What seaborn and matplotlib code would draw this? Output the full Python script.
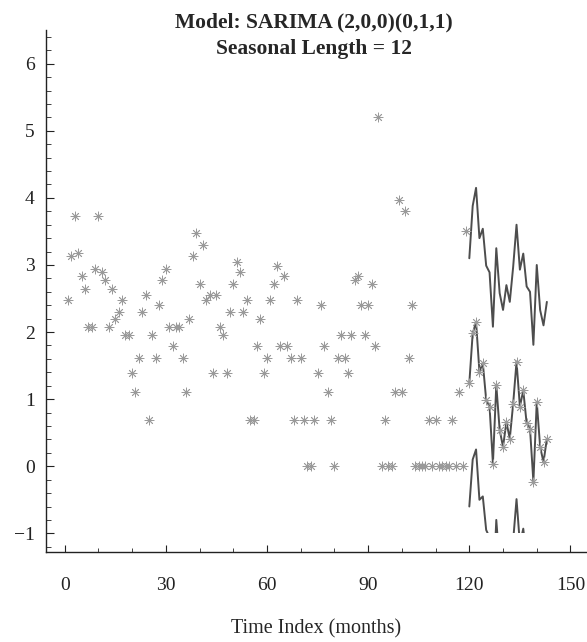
import matplotlib
matplotlib.use("Agg")
import matplotlib.pyplot as plt
from matplotlib.patches import Rectangle
from matplotlib.ticker import MultipleLocator
import seaborn as sns

# observed series (log counts), months 1..143
months = list(range(1, 144))
log_counts = [
    2.48, 3.14, 3.73, 3.18, 2.83, 2.64, 2.08, 2.08, 2.94, 3.73,
    2.89, 2.78, 2.08, 2.64, 2.20, 2.30, 2.48, 1.95, 1.95, 1.39,
    1.10, 1.61, 2.30, 2.56, 0.69, 1.95, 1.61, 2.40, 2.77, 2.94,
    2.08, 1.79, 2.08, 2.08, 1.61, 1.10, 2.20, 3.14, 3.47, 2.71,
    3.30, 2.48, 2.56, 1.39, 2.56, 2.08, 1.95, 1.39, 2.30, 2.71,
    3.04, 2.89, 2.30, 2.48, 0.69, 0.69, 1.79, 2.20, 1.39, 1.61,
    2.48, 2.71, 2.99, 1.79, 2.83, 1.79, 1.61, 0.69, 2.48, 1.61,
    0.69, 0.00, 0.00, 0.69, 1.39, 2.40, 1.79, 1.10, 0.69, 0.00,
    1.61, 1.95, 1.61, 1.39, 1.95, 2.77, 2.83, 2.40, 1.95, 2.40,
    2.71, 1.79, 5.20, 0.00, 0.69, 0.00, 0.00, 1.10, 3.97, 1.10,
    3.81, 1.61, 2.40, 0.00, 0.00, 0.00, 0.00, 0.69, 0.00, 0.69,
    0.00, 0.00, 0.00, 0.00, 0.69, 0.00, 1.10, 0.00, 3.51,
    1.24, 1.98, 2.15, 1.41, 1.54, 0.99, 0.89, 0.04, 1.21, 0.54,
    0.29, 0.66, 0.41, 0.93, 1.56, 0.89, 1.13, 0.64, 0.56, -0.23,
    0.96, 0.29, 0.06, 0.41,
]

# forecast period with bounds
fc_months = list(range(120, 144))
forecast = [1.24, 1.98, 2.15, 1.41, 1.54, 0.99, 0.89, 0.04, 1.21, 0.54,
            0.29, 0.66, 0.41, 0.93, 1.56, 0.89, 1.13, 0.64, 0.56, -0.23,
            0.96, 0.29, 0.06, 0.41]
upper = [3.10, 3.88, 4.15, 3.40, 3.54, 2.99, 2.89, 2.08, 3.25, 2.58,
         2.33, 2.70, 2.45, 2.97, 3.60, 2.93, 3.17, 2.68, 2.60, 1.81,
         3.00, 2.33, 2.10, 2.45]
lower = [-0.60, 0.10, 0.25, -0.50, -0.45, -0.95, -1.06, -1.94, -0.80, -1.48,
         -1.74, -1.37, -1.63, -1.11, -0.49, -1.16, -0.93, -1.42, -1.50, -2.29,
         -1.10, -1.77, -2.00, -1.65]

sns.set_style("ticks")
plt.rcParams["font.family"] = ["Liberation Serif", "DejaVu Serif"]

fig = plt.figure(figsize=(5.87, 6.42), dpi=100)
ax = fig.add_axes([0.078, 0.14, 0.922, 0.813])

line_col = "#4d4d4d"
pt_col = "#9a9a9a"

sns.scatterplot(x=months, y=log_counts, marker=(8, 2, 0), s=42,
                color=pt_col, edgecolor=pt_col, linewidth=0.6, ax=ax, zorder=3)
sns.lineplot(x=fc_months, y=forecast, color=line_col, lw=1.4, ax=ax)
sns.lineplot(x=fc_months, y=upper, color=line_col, lw=1.4, ax=ax)
sns.lineplot(x=fc_months, y=lower, color=line_col, lw=1.4, ax=ax)
# lower bound is only drawn down to -1
clip = Rectangle((100, -1), 60, 10, transform=ax.transData)
ax.lines[-1].set_clip_path(clip)

ax.set_xlim(-5.6, 154.9)
ax.set_ylim(-1.28, 6.5)
ax.xaxis.set_major_locator(MultipleLocator(30))
ax.xaxis.set_minor_locator(MultipleLocator(10))
ax.yaxis.set_major_locator(MultipleLocator(1))
ax.yaxis.set_minor_locator(MultipleLocator(0.2))
ax.tick_params(which="both", direction="in", colors="#222222", labelsize=14)
ax.tick_params(axis="x", which="major", length=5, pad=18)
ax.tick_params(axis="x", which="minor", length=3)
ax.tick_params(axis="y", which="major", length=6, pad=8)
ax.tick_params(axis="y", which="minor", length=3.5)
sns.despine(ax=ax)
for s in ["left", "bottom"]:
    ax.spines[s].set_color("#222222")
    ax.spines[s].set_linewidth(1.0)

ax.set_xlabel("Time Index (months)", fontsize=14.5, labelpad=18)
ax.set_ylabel("")

fig.text(0.535, 0.965, "Model: SARIMA (2,0,0)(0,1,1)", ha="center", va="center",
         fontsize=15.5, fontweight="bold")
fig.text(0.535, 0.924, "Seasonal Length = 12", ha="center", va="center",
         fontsize=15.5, fontweight="bold")

fig.savefig("out.png", dpi=100)
